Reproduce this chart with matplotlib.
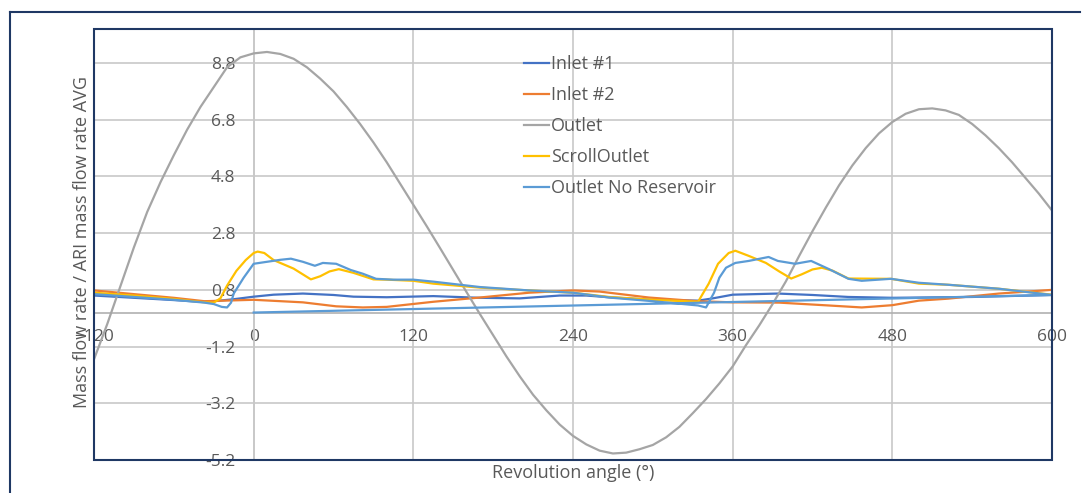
import numpy as np
import matplotlib
matplotlib.use("Agg")
import matplotlib.pyplot as plt
from matplotlib.lines import Line2D
from matplotlib.patches import Rectangle

plt.rcParams['font.family'] = ['Open Sans', 'DejaVu Sans']

# Outlet (big wave)
outlet_x = [-120, -110, -100, -90, -80, -70, -60, -50, -40, -30, -20, -10, 0, 10, 20, 30, 40, 50,
            60, 70, 80, 90, 100, 110, 120, 130, 140, 150, 160, 170, 180, 190, 200, 210, 220, 230,
            240, 250, 260, 270, 280, 290, 300, 310, 320, 330, 340, 350, 360, 370, 380, 390, 400,
            410, 420, 430, 440, 450, 460, 470, 480, 490, 500, 510, 520, 530, 540, 550, 560, 570,
            580, 590, 600]
outlet_y = [-1.65, -0.4, 0.95, 2.3, 3.55, 4.6, 5.55, 6.45, 7.25, 7.95, 8.65, 9.0, 9.14, 9.19, 9.12,
            8.95, 8.65, 8.25, 7.8, 7.25, 6.65, 6.0, 5.3, 4.55, 3.8, 3.05, 2.28, 1.5, 0.72, -0.05,
            -0.8, -1.55, -2.25, -2.9, -3.45, -3.95, -4.35, -4.65, -4.87, -4.97, -4.94, -4.82,
            -4.67, -4.4, -4.03, -3.55, -3.05, -2.5, -1.9, -1.15, -0.45, 0.3, 1.1, 2.0, 2.87, 3.7,
            4.49, 5.19, 5.8, 6.32, 6.72, 7.01, 7.17, 7.2, 7.13, 6.97, 6.65, 6.25, 5.8, 5.3, 4.75,
            4.2, 3.6]

# Inlet #1
inlet1_x = [-120, -90, -60, -40, -30, -15, 0, 15, 37, 60, 75, 100, 135, 170, 200, 230, 250, 270,
            300, 334, 345, 360, 394, 420, 447, 480, 500, 540, 600]
inlet1_y = [0.6, 0.52, 0.44, 0.38, 0.4, 0.47, 0.56, 0.63, 0.67, 0.62, 0.56, 0.54, 0.58, 0.52, 0.5,
            0.6, 0.6, 0.53, 0.45, 0.42, 0.5, 0.63, 0.67, 0.62, 0.55, 0.52, 0.53, 0.55, 0.62]

# Inlet #2
inlet2_x = [-120, -90, -60, -37, 0, 37, 62, 82, 100, 135, 170, 207, 240, 260, 297, 334, 360, 395,
            432, 457, 480, 500, 522, 560, 600]
inlet2_y = [0.78, 0.65, 0.52, 0.4, 0.45, 0.36, 0.22, 0.18, 0.2, 0.38, 0.53, 0.7, 0.78, 0.74, 0.53,
            0.4, 0.36, 0.35, 0.25, 0.18, 0.26, 0.42, 0.49, 0.67, 0.8]

# ScrollOutlet
scroll_x = [-120, -90, -60, -37, -30, -25, -20, -13, -6, 0, 3, 8, 15, 30, 43, 50, 57, 64, 75, 90,
            100, 120, 135, 170, 207, 240, 267, 300, 334, 342, 349, 357, 362, 372, 385, 395, 404,
            412, 420, 427, 435, 447, 479, 500, 522, 560, 600]
scroll_y = [0.7, 0.6, 0.48, 0.36, 0.35, 0.5, 0.95, 1.47, 1.85, 2.1, 2.15, 2.1, 1.85, 1.55, 1.17,
            1.28, 1.45, 1.53, 1.4, 1.17, 1.16, 1.12, 1.02, 0.88, 0.78, 0.7, 0.55, 0.45, 0.38,
            1.02, 1.72, 2.1, 2.18, 2.0, 1.75, 1.45, 1.2, 1.35, 1.52, 1.58, 1.48, 1.2, 1.19, 1.02,
            0.98, 0.84, 0.63]

# Outlet No Reservoir (last row wraps back to 0)
nores_x = [-120, -90, -60, -37, -30, -24, -20, -17, -15, -7.5, 0, 10, 20, 28, 37, 46, 52, 62, 73,
           82, 92, 105, 120, 135, 170, 207, 240, 267, 300, 334, 340, 346, 350, 355, 362, 372, 387,
           394, 407, 419, 432, 447, 457, 479, 500, 522, 560, 600, 0]
nores_y = [0.65, 0.55, 0.45, 0.35, 0.3, 0.2, 0.18, 0.35, 0.67, 1.23, 1.72, 1.79, 1.86, 1.9, 1.79,
           1.65, 1.75, 1.72, 1.5, 1.37, 1.19, 1.16, 1.16, 1.09, 0.9, 0.78, 0.7, 0.53, 0.4, 0.25,
           0.18, 0.7, 1.23, 1.58, 1.75, 1.82, 1.96, 1.82, 1.72, 1.82, 1.54, 1.19, 1.12, 1.19, 1.05,
           0.98, 0.84, 0.62, 0.0]

x_ticks = [-120, 0, 120, 240, 360, 480, 600]
y_ticks = [-5.2, -3.2, -1.2, 0.8, 2.8, 4.8, 6.8, 8.8]

navy = '#1f3864'
txt = '#595959'

fig = plt.figure(figsize=(10.86, 4.93), dpi=100)
ax = fig.add_axes([94/1086, 33/493, 958/1086, 431/493])

ax.plot(inlet1_x, inlet1_y, color='#4472c4', lw=1.6, label='Inlet #1', zorder=3)
ax.plot(inlet2_x, inlet2_y, color='#ed7d31', lw=1.6, label='Inlet #2', zorder=3)
ax.plot(outlet_x, outlet_y, color='#a5a5a5', lw=1.6, label='Outlet', zorder=3)
ax.plot(scroll_x, scroll_y, color='#ffc000', lw=1.6, label='ScrollOutlet', zorder=3)
ax.plot(nores_x, nores_y, color='#5b9bd5', lw=1.6, label='Outlet No Reservoir', zorder=3)

ax.set_xlim(-120, 600)
ax.set_ylim(-5.2, 10.0)
ax.set_xticks(x_ticks)
ax.set_yticks(y_ticks)
ax.set_yticklabels(['%.1f' % v for v in y_ticks])
ax.grid(True, color='#c8c8c8', lw=1.2, zorder=0)
ax.set_axisbelow(True)

ax.spines['left'].set_position(('data', 0))
ax.spines['bottom'].set_position(('data', 0))
ax.spines['left'].set_color('#c8c8c8')
ax.spines['bottom'].set_color('#b0b0b0')
ax.spines['left'].set_linewidth(1.2)
ax.spines['bottom'].set_linewidth(1.2)
ax.spines['top'].set_visible(False)
ax.spines['right'].set_visible(False)
ax.tick_params(length=0, labelsize=12.5, labelcolor=txt)
ax.tick_params(axis='x', pad=12)
ax.tick_params(axis='y', pad=13)

ax.add_patch(Rectangle((0, 0), 1, 1, transform=ax.transAxes, fill=False,
                       edgecolor=navy, lw=1.5, clip_on=False, zorder=5))

fig.text(82/1086, 1 - 242/493, 'Mass flow rate / ARI mass flow rate AVG', rotation=90,
         ha='center', va='center', fontsize=13, color=txt)
fig.text(573/1086, 1 - 473/493, 'Revolution angle (°)', ha='center', va='center',
         fontsize=13, color=txt)

ax.legend(loc='upper left', bbox_to_anchor=(430/958, 1 - 26/431), frameon=False, fontsize=13,
          labelcolor=txt, handlelength=1.4, handletextpad=0.1, labelspacing=0.72,
          borderaxespad=0, borderpad=0)

fig.add_artist(Line2D([10/1086, 10/1086], [0, 1 - 12/493], transform=fig.transFigure,
                      color=navy, lw=1.5))
fig.add_artist(Line2D([10/1086, 1080/1086], [1 - 12/493, 1 - 12/493], transform=fig.transFigure,
                      color=navy, lw=1.5))

fig.savefig('out.png', dpi=100)
